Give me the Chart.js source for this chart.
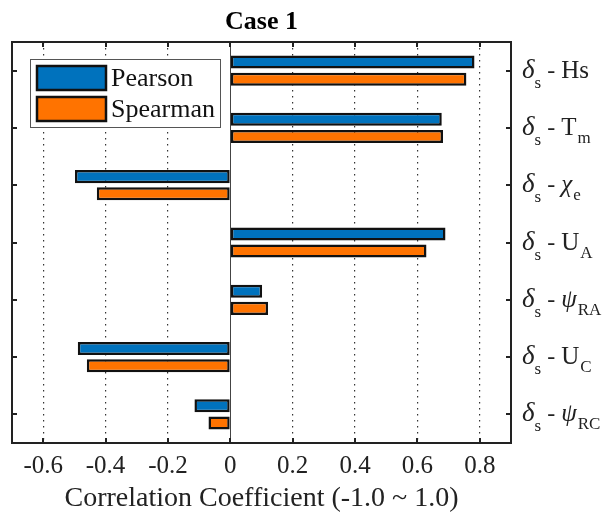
<!DOCTYPE html>
<html>
<head>
<meta charset="utf-8">
<script src="https://cdn.jsdelivr.net/npm/chart.js@4.4.1/dist/chart.umd.min.js"></script>
<style>
  html, body { margin: 0; padding: 0; background: #fff; }
  #wrap { width: 611px; height: 519px; }
</style>
</head>
<body>
<div id="wrap"><canvas id="corrChart" width="611" height="519"></canvas></div>
<script>
// correlation of delta_s against each variable, top to bottom
const categories = ['δs - Hs', 'δs - Tm', 'δs - χe', 'δs - UA', 'δs - ψRA', 'δs - UC', 'δs - ψRC'];
const labelMain = ['Hs', 'T', 'χ', 'U', 'ψ', 'U', 'ψ'];
const labelSub = ['', 'm', 'e', 'A', 'RA', 'C', 'RC'];
const pearson = [0.783, 0.678, -0.498, 0.69, 0.102, -0.489, -0.115];
const spearman = [0.757, 0.682, -0.428, 0.629, 0.121, -0.46, -0.07];
const xTicks = [-0.6, -0.4, -0.2, 0, 0.2, 0.4, 0.6, 0.8];
const chartTitle = 'Case 1';

const SERIF = '"Liberation Serif", "Times New Roman", serif';
const BLUE = '#0072BD';
const ORANGE = '#FF7300';

// title centred over the axes box
const titlePlugin = {
  id: 'axesTitle',
  afterDraw(chart) {
    const { ctx, chartArea: a } = chart;
    ctx.save();
    ctx.fillStyle = '#000';
    ctx.font = 'bold 26px ' + SERIF;
    ctx.textAlign = 'center';
    ctx.textBaseline = 'alphabetic';
    ctx.fillText(chartTitle, (a.left + a.right) / 2, a.top - 13);
    ctx.restore();
  }
};

// box, inward ticks, zero line
const framePlugin = {
  id: 'frame',
  beforeDatasetsDraw(chart) {
    const { ctx, chartArea: a, scales } = chart;
    const x0 = scales.x.getPixelForValue(0);
    ctx.save();
    ctx.strokeStyle = '#444';
    ctx.lineWidth = 1;
    ctx.beginPath();
    ctx.moveTo(Math.round(x0) + 0.5, a.top);
    ctx.lineTo(Math.round(x0) + 0.5, a.bottom);
    ctx.stroke();
    ctx.restore();
  },
  afterDatasetsDraw(chart) {
    const { ctx, chartArea: a, scales } = chart;
    ctx.save();
    ctx.strokeStyle = '#222';
    ctx.lineWidth = 2;
    const t = 5;
    ctx.beginPath();
    xTicks.forEach(v => {
      const px = Math.round(scales.x.getPixelForValue(v));
      ctx.moveTo(px, a.bottom); ctx.lineTo(px, a.bottom - t);
      ctx.moveTo(px, a.top); ctx.lineTo(px, a.top + t);
    });
    categories.forEach((c, i) => {
      const py = Math.round(scales.y.getPixelForValue(i));
      ctx.moveTo(a.left, py); ctx.lineTo(a.left + t, py);
      ctx.moveTo(a.right, py); ctx.lineTo(a.right - t, py);
    });
    ctx.stroke();
    ctx.strokeRect(a.left, a.top, a.right - a.left, a.bottom - a.top);
    ctx.restore();
  }
};

// right-hand labels with subscripts
const yLabelPlugin = {
  id: 'yLabels',
  afterDraw(chart) {
    const { ctx, chartArea: a, scales } = chart;
    ctx.save();
    ctx.fillStyle = '#222';
    ctx.textBaseline = 'alphabetic';
    categories.forEach((c, i) => {
      const py = scales.y.getPixelForValue(i);
      const base = py + 7;
      let x = a.right + 11;
      ctx.font = 'italic 27px ' + SERIF;
      ctx.fillText('δ', x, base);
      x += ctx.measureText('δ').width;
      ctx.font = '17px ' + SERIF;
      ctx.fillText('s', x, base + 10);
      x += ctx.measureText('s').width;
      ctx.font = '24px ' + SERIF;
      ctx.fillText(' - ', x, base);
      x += ctx.measureText(' - ').width;
      const greek = labelMain[i] === 'χ' || labelMain[i] === 'ψ';
      ctx.font = (greek ? 'italic ' : '') + '25px ' + SERIF;
      ctx.fillText(labelMain[i], x, base);
      x += ctx.measureText(labelMain[i]).width;
      if (labelSub[i]) {
        ctx.font = '17px ' + SERIF;
        ctx.fillText(labelSub[i], x + 1, base + 8);
      }
    });
    ctx.restore();
  }
};

// legend box in the upper left of the axes
const legendPlugin = {
  id: 'boxLegend',
  afterDraw(chart) {
    const { ctx, chartArea: a } = chart;
    const bx = a.left + 18, by = a.top + 17, bw = 190, bh = 68;
    ctx.save();
    ctx.fillStyle = '#fff';
    ctx.fillRect(bx, by, bw, bh);
    ctx.strokeStyle = '#555';
    ctx.lineWidth = 1;
    ctx.strokeRect(bx + 0.5, by + 0.5, bw, bh);
    chart.data.datasets.forEach((ds, i) => {
      const sy = by + 7 + i * 31;
      ctx.fillStyle = ds.backgroundColor;
      ctx.fillRect(bx + 7, sy, 69, 24);
      ctx.strokeStyle = '#111';
      ctx.lineWidth = 2.5;
      ctx.strokeRect(bx + 7, sy, 69, 24);
      ctx.fillStyle = '#111';
      ctx.font = '26px ' + SERIF;
      ctx.textBaseline = 'middle';
      ctx.fillText(ds.label, bx + 81, sy + 13);
    });
    ctx.restore();
  }
};

const ctx = document.getElementById('corrChart').getContext('2d');
const chart = new Chart(ctx, {
  type: 'bar',
  data: {
    labels: categories,
    datasets: [
      { label: 'Pearson', data: pearson, backgroundColor: BLUE, borderColor: '#111', borderWidth: 2.5, borderSkipped: false },
      { label: 'Spearman', data: spearman, backgroundColor: ORANGE, borderColor: '#111', borderWidth: 2.5, borderSkipped: false }
    ]
  },
  options: {
    indexAxis: 'y',
    responsive: false,
    animation: false,
    categoryPercentage: 0.6,
    barPercentage: 0.76,
    layout: { padding: { left: 12, right: 0, top: 42, bottom: 6 } },
    plugins: {
      legend: { display: false },
      tooltip: { enabled: false },
      title: { display: false }
    },
    scales: {
      x: {
        min: -0.7,
        max: 0.9,
        afterBuildTicks(scale) {
          scale.ticks = xTicks.map(v => ({ value: v }));
        },
        afterFit(scale) { scale.height = 70; },
        grid: {
          lineWidth: 1.2,
          drawTicks: false,
          color: ctx => (ctx.tick && ctx.tick.value === 0) ? 'rgba(0,0,0,0)' : '#333'
        },
        border: { display: false, dash: [1.5, 4.5] },
        ticks: {
          color: '#222',
          padding: 11,
          font: { family: SERIF, size: 25, lineHeight: 1 },
          callback: v => String(Math.round(v * 10) / 10)
        },
        title: {
          display: true,
          text: 'Correlation Coefficient (-1.0 ~ 1.0)',
          color: '#222',
          font: { family: SERIF, size: 28, lineHeight: 1 },
          padding: { top: 3, bottom: 0 }
        }
      },
      y: {
        position: 'right',
        grid: { display: false, drawTicks: false },
        border: { display: false },
        ticks: { display: false },
        afterFit(scale) { scale.width = 100; }
      }
    }
  },
  plugins: [framePlugin, yLabelPlugin, legendPlugin, titlePlugin]
});
</script>
</body>
</html>
